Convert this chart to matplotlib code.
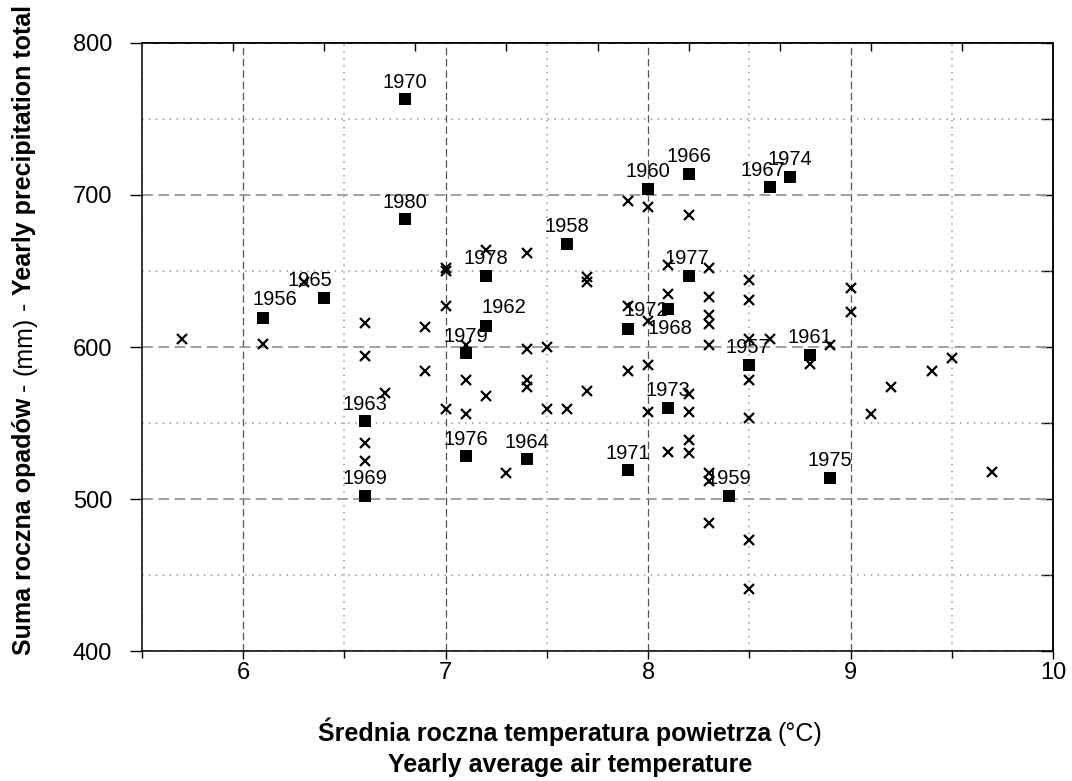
import matplotlib
matplotlib.use("Agg")
import matplotlib.pyplot as plt
from matplotlib.ticker import MultipleLocator, NullFormatter
from matplotlib.transforms import IdentityTransform

plt.rcParams['font.family'] = ['Liberation Sans', 'DejaVu Sans']

# labelled years (black squares)
years = [1956, 1957, 1958, 1959, 1960, 1961, 1962, 1963, 1964, 1965,
         1966, 1967, 1968, 1969, 1970, 1971, 1972, 1973, 1974, 1975,
         1976, 1977, 1978, 1979, 1980]
year_temp = [6.1, 8.5, 7.6, 8.4, 8.0, 8.8, 7.2, 6.6, 7.4, 6.4,
             8.2, 8.6, 8.1, 6.6, 6.8, 7.9, 7.9, 8.1, 8.7, 8.9,
             7.1, 8.2, 7.2, 7.1, 6.8]
year_prec = [619, 588, 668, 502, 704, 595, 614, 551, 526, 632,
             714, 705, 625, 502, 763, 519, 612, 560, 712, 514,
             528, 647, 647, 596, 684]

# other years (crosses)
cross_temp = [5.7, 6.1, 6.3, 6.6, 6.6, 6.6, 6.6, 6.7, 6.9, 6.9,
              7.0, 7.0, 7.0, 7.0, 7.1, 7.1, 7.1, 7.2, 7.2, 7.3,
              7.4, 7.4, 7.4, 7.4, 7.5, 7.5, 7.6, 7.7, 7.7, 7.7,
              7.9, 7.9, 7.9, 8.0, 8.0, 8.0, 8.0, 8.1, 8.1, 8.1,
              8.2, 8.2, 8.2, 8.2, 8.2, 8.3, 8.3, 8.3, 8.3, 8.3,
              8.3, 8.3, 8.3, 8.5, 8.5, 8.5, 8.5, 8.5, 8.5, 8.5,
              8.6, 8.8, 8.9, 9.0, 9.0, 9.1, 9.2, 9.4, 9.5, 9.7]
cross_prec = [605, 602, 643, 616, 594, 537, 525, 570, 613, 584,
              652, 650, 627, 559, 601, 578, 556, 664, 568, 517,
              662, 599, 578, 574, 600, 559, 559, 646, 643, 571,
              696, 627, 584, 692, 617, 588, 557, 654, 635, 531,
              687, 569, 557, 539, 530, 652, 633, 621, 615, 601,
              517, 512, 484, 644, 631, 605, 578, 553, 473, 441,
              605, 589, 601, 639, 623, 556, 574, 584, 593, 518]

# label shifts (pixels) where the year text is not straight above its square
label_shift = {1956: (11, 19), 1965: (-14, 18), 1962: (18, 18), 1967: (-7, 17),
               1972: (18, 18), 1968: (2, -20), 1977: (-2, 17), 1957: (-2, 18)}

W, H = 1072, 781
fig = plt.figure(figsize=(W / 100, H / 100), dpi=100)
ax = fig.add_axes([142 / W, 1 - 651 / H, (1053 - 142) / W, (651 - 43) / H])

ax.plot(cross_temp, cross_prec, ls="none", marker="x", ms=7.7, mew=1.6,
        color="black", zorder=3)
ax.plot(year_temp, year_prec, ls="none", marker="s", ms=8.3, mew=0,
        color="black", zorder=4)
for yr, t, p in zip(years, year_temp, year_prec):
    dx, dy = label_shift.get(yr, (0, 17))
    ax.annotate(str(yr), (t, p), xytext=(dx, dy), textcoords="offset pixels",
                ha="center", va="center", fontsize=14.5, zorder=5)

ax.set_xlim(5.5, 10)
ax.set_ylim(400, 800)
ax.xaxis.set_major_locator(MultipleLocator(1))
ax.xaxis.set_minor_locator(MultipleLocator(0.5))
ax.yaxis.set_major_locator(MultipleLocator(100))
ax.yaxis.set_minor_locator(MultipleLocator(50))

ax.xaxis.grid(True, which="major", color="#555555", ls=(0, (6, 3)), lw=0.9)
ax.yaxis.grid(True, which="major", color="#999999", ls=(0, (6, 3)), lw=1.3)
ax.grid(True, which="minor", color="#999999", ls=(0, (1, 3.5)), lw=1.1)
ax.set_axisbelow(True)

for s in ax.spines.values():
    s.set_linewidth(1.1)

ax.tick_params(axis="x", which="major", direction="out", length=6, width=1,
               labelsize=17, pad=2, top=False)
ax.tick_params(axis="x", which="minor", direction="out", length=5, width=1,
               top=False)
ax.tick_params(axis="y", which="major", direction="out", length=8.5, width=1,
               labelsize=17, pad=13, right=False)
ax.tick_params(axis="y", which="minor", left=False, right=False)

# top: inward ticks dividing the range into ten parts
top = ax.secondary_xaxis("top", functions=(lambda v: (v - 5.5) / 0.45,
                                            lambda v: v * 0.45 + 5.5))
top.set_xticks(range(1, 10))
top.xaxis.set_major_formatter(NullFormatter())
top.tick_params(direction="in", length=6, width=1)
top.spines["top"].set_linewidth(1.1)

# right: inward ticks every 50 mm
right = ax.secondary_yaxis("right")
right.yaxis.set_major_locator(MultipleLocator(50))
right.yaxis.set_major_formatter(NullFormatter())
right.tick_params(direction="in", length=9, width=1)
right.spines["right"].set_linewidth(1.1)


def chain(parts, x, y, size, vertical=False):
    r = fig.canvas.get_renderer()
    gap = size * 0.28 * fig.dpi / 72
    placed = []
    pos = 0
    for s, w in parts:
        t = fig.text(0, 0, s, size=size, weight=w, ha="left", va="baseline",
                     rotation=90 if vertical else 0, rotation_mode="anchor",
                     transform=IdentityTransform())
        bb = t.get_window_extent(r)
        placed.append((t, pos))
        pos += (bb.height if vertical else bb.width) + gap
    total = pos - gap
    for t, p in placed:
        if vertical:
            t.set_position((x, y - total / 2 + p))
        else:
            t.set_position((x - total / 2 + p, y))


chain([("Średnia roczna temperatura powietrza", "bold"), ("(°C)", "normal")],
      570, H - 741, 18)
chain([("Yearly average air temperature", "bold")], 570, H - 772, 18)
chain([("Suma roczna opadów", "bold"), ("-", "normal"), ("(mm)", "normal"),
       ("-", "normal"), ("Yearly precipitation total", "bold")],
      31, H - 330, 18, vertical=True)

fig.savefig("out.png", dpi=100)
